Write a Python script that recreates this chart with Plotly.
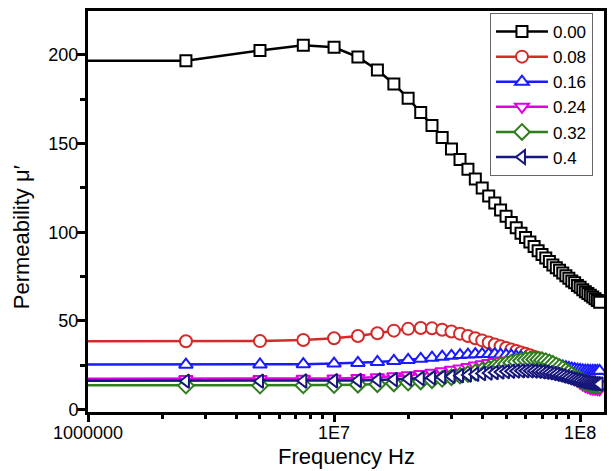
import plotly.graph_objects as go

# Frequency (Hz): first point lies left of the visible axis range
freq = [1e5, 2.5e6, 5e6, 7.5e6, 1.0e7, 1.25e7, 1.5e7, 1.75e7, 2.0e7, 2.25e7, 2.5e7,
        2.75e7, 3.0e7, 3.25e7, 3.5e7, 3.75e7, 4.0e7, 4.25e7, 4.5e7, 4.75e7, 5.0e7,
        5.25e7, 5.5e7, 5.75e7, 6.0e7, 6.25e7, 6.5e7, 6.75e7, 7.0e7, 7.25e7, 7.5e7,
        7.75e7, 8.0e7, 8.25e7, 8.5e7, 8.75e7, 9.0e7, 9.25e7, 9.5e7, 9.75e7, 1.0e8,
        1.025e8, 1.05e8, 1.075e8, 1.1e8, 1.125e8, 1.15e8, 1.175e8, 1.2e8]

mu_000 = [196.8, 196.8, 202.5, 205.5, 204.3, 198.8, 191.5, 183.6, 175.6, 167.5, 160.2,
          153.5, 147.0, 141.0, 135.5, 130.0, 125.0, 120.5, 116.5, 112.5, 109.0,
          105.5, 102.5, 99.5, 97.0, 94.5, 92.0, 89.5, 87.5, 85.5, 83.5,
          81.5, 80.0, 78.5, 77.0, 75.5, 74.0, 72.5, 71.5, 70.0, 69.0,
          67.5, 66.5, 65.5, 64.5, 63.5, 62.5, 61.5, 60.5]
mu_008 = [38.5, 38.5, 38.6, 39.2, 40.2, 41.5, 43.0, 44.5, 45.5, 46.0, 45.8,
          45.0, 44.0, 42.8, 41.5, 40.2, 39.0, 37.8, 36.7, 35.7, 34.7,
          33.8, 33.0, 32.2, 31.4, 30.6, 29.8, 29.0, 28.2, 27.4, 26.6,
          25.8, 25.0, 24.2, 23.4, 22.6, 21.8, 21.0, 20.3, 19.6, 19.0,
          18.6, 18.3, 18.0, 17.8, 17.6, 17.5, 17.4, 17.3]
mu_016 = [25.3, 25.3, 25.4, 25.6, 25.9, 26.3, 26.8, 27.4, 28.0, 28.6, 29.2,
          29.8, 30.3, 30.7, 31.0, 31.2, 31.3, 31.3, 31.2, 31.0, 30.7,
          30.4, 30.0, 29.6, 29.2, 28.8, 28.3, 27.8, 27.3, 26.8, 26.3,
          25.8, 25.3, 24.8, 24.3, 23.9, 23.5, 23.1, 22.8, 22.5, 22.3,
          22.1, 22.0, 21.9, 21.8, 21.8, 21.8, 21.8, 21.8]
mu_024 = [17.2, 17.2, 17.2, 17.3, 17.5, 17.8, 18.2, 18.7, 19.3, 20.0, 20.8,
          21.6, 22.4, 23.2, 24.0, 24.8, 25.5, 26.2, 26.8, 27.3, 27.7,
          28.0, 28.2, 28.3, 28.3, 28.2, 28.0, 27.6, 27.1, 26.5, 25.8,
          25.0, 24.1, 23.1, 22.0, 20.9, 19.7, 18.5, 17.3, 16.1, 15.0,
          14.0, 13.2, 12.6, 12.1, 11.8, 11.6, 11.5, 11.4]
mu_032 = [13.5, 13.5, 13.5, 13.6, 13.8, 14.0, 14.3, 14.7, 15.2, 15.8, 16.5,
          17.3, 18.2, 19.1, 20.0, 21.0, 22.0, 23.0, 24.0, 24.9, 25.7,
          26.4, 27.0, 27.5, 27.9, 28.1, 28.2, 28.1, 27.8, 27.3, 26.6,
          25.8, 24.9, 23.9, 22.9, 21.8, 20.7, 19.6, 18.5, 17.5, 16.6,
          15.8, 15.2, 14.7, 14.3, 14.0, 13.8, 13.7, 13.6]
mu_040 = [16.0, 16.0, 16.0, 16.1, 16.2, 16.4, 16.6, 16.9, 17.2, 17.5, 17.9,
          18.3, 18.7, 19.1, 19.5, 19.9, 20.3, 20.6, 20.9, 21.2, 21.4,
          21.6, 21.7, 21.8, 21.8, 21.8, 21.7, 21.5, 21.3, 21.0, 20.7,
          20.3, 19.9, 19.4, 18.9, 18.4, 17.9, 17.4, 16.9, 16.5, 16.1,
          15.7, 15.4, 15.1, 14.9, 14.7, 14.6, 14.5, 14.4]

series_names = ["0.00", "0.08", "0.16", "0.24", "0.32", "0.4"]
series_values = [mu_000, mu_008, mu_016, mu_024, mu_032, mu_040]

x_tickvals = [1e6, 1e7, 1e8]
x_ticktext = ["1000000", "1E7", "1E8"]
y_tickvals = [0, 50, 100, 150, 200]

colors = ["#000000", "#d42a2a", "#1a1aff", "#e000e0", "#2f7d1e", "#16167c"]
symbols = ["square", "circle", "triangle-up", "triangle-down", "diamond", "triangle-left"]
sizes = [11, 12, 12, 12, 12, 12]

FONT = "Liberation Sans, Arial, sans-serif"

fig = go.Figure()
for name, vals, c, s, sz in zip(series_names, series_values, colors, symbols, sizes):
    fig.add_trace(go.Scatter(
        x=freq, y=vals, name=name, mode="lines+markers",
        line=dict(color=c, width=2.5),
        marker=dict(symbol=s, size=sz, color="white", line=dict(color=c, width=2)),
    ))

minor_x = [m * 10 ** e for e in (6, 7) for m in range(2, 10)]

fig.update_layout(
    width=611, height=471,
    margin=dict(l=88, r=4, t=11, b=59),
    paper_bgcolor="white", plot_bgcolor="white",
    font=dict(family=FONT, color="black", size=18),
    showlegend=True,
    legend=dict(
        x=0.779, y=0.995, xanchor="left", yanchor="top",
        bgcolor="white", bordercolor="#666666", borderwidth=1,
        font=dict(family=FONT, size=17, color="black"),
        itemwidth=52, tracegroupgap=0,
    ),
    xaxis=dict(
        type="log", range=[6, 8.097],
        tickmode="array", tickvals=x_tickvals, ticktext=x_ticktext,
        ticks="outside", ticklen=7, tickwidth=2.5, tickcolor="black",
        ticklabelstandoff=-5,
        showline=True, linecolor="black", linewidth=3, mirror=True,
        showgrid=False, zeroline=False,
        tickfont=dict(size=18),
        minor=dict(tickmode="array", tickvals=minor_x, ticks="outside",
                   ticklen=4, tickwidth=2.5, tickcolor="black", showgrid=False),
    ),
    yaxis=dict(
        range=[-1.4, 224.8],
        tickmode="array", tickvals=y_tickvals,
        ticks="outside", ticklen=8, tickwidth=2.5, tickcolor="black",
        ticklabelstandoff=-5,
        showline=True, linecolor="black", linewidth=3, mirror=True,
        showgrid=False, zeroline=False,
        tickfont=dict(size=18),
        minor=dict(dtick=25, tick0=0, ticks="outside", ticklen=5,
                   tickwidth=2.5, tickcolor="black", showgrid=False),
    ),
    annotations=[
        dict(text="Frequency Hz", xref="paper", yref="paper", x=0.5, y=-0.076,
             xanchor="center", yanchor="top", showarrow=False,
             font=dict(family=FONT, size=22, color="black")),
        dict(text="Permeability \u03bc\u2032", xref="paper", yref="paper",
             x=-0.129, y=0.437, xanchor="center", yanchor="middle",
             textangle=-90, showarrow=False,
             font=dict(family=FONT, size=22, color="black")),
    ],
)

fig.write_html("out.html", config={"displayModeBar": False},
               post_script="document.body.style.margin='0';")
